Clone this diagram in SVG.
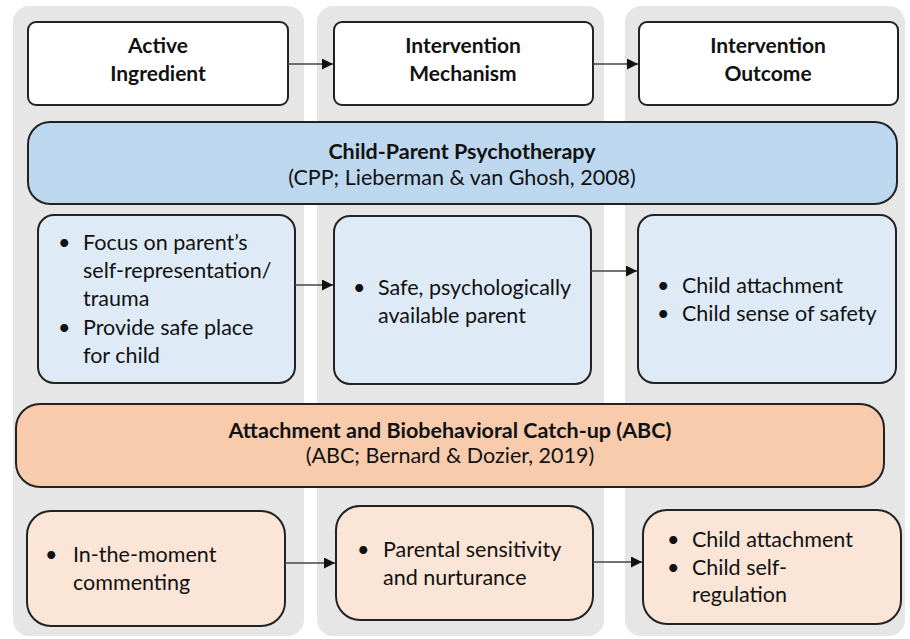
<svg xmlns="http://www.w3.org/2000/svg" width="910" height="639" viewBox="0 0 910 639">
<defs>
<marker id="ah" viewBox="0 0 10 10" refX="10" refY="5" markerWidth="11" markerHeight="11" markerUnits="userSpaceOnUse" orient="auto">
<path d="M0,0 L10,5 L0,10 z" fill="#111"/>
</marker>
<style>
.col{fill:#e6e6e6;}
.box{stroke:#222;stroke-width:2;}
.hdr{fill:#fff;}
.bb{fill:#bdd7ee;}
.lb{fill:#deebf7;}
.ob{fill:#f8cbad;}
.lo{fill:#fbe5d6;}
text{font-family:Lato,"Liberation Sans",sans-serif;fill:#111;}
.h{font-size:21.5px;font-weight:bold;text-anchor:middle;}
.hh{font-size:21px;font-weight:bold;text-anchor:middle;}
.t{font-size:21.5px;}
.s{font-size:21.5px;text-anchor:middle;}
.conn{stroke:#444;stroke-width:1.4;fill:none;}
</style>
</defs>
<rect width="910" height="639" fill="#fff"/>
<g id="columns">
<rect class="col" x="13" y="6" width="291" height="630" rx="16"/>
<rect class="col" x="317" y="6" width="287" height="630" rx="16"/>
<rect class="col" x="625" y="6" width="280" height="630" rx="16"/>
</g>
<g id="hdr-active">
<rect class="box hdr" x="28" y="22" width="260" height="83" rx="8"/>
<text class="hh" x="158" y="53">Active</text>
<text class="hh" x="158" y="81">Ingredient</text>
</g>
<g id="hdr-mechanism">
<rect class="box hdr" x="334" y="22" width="259" height="83" rx="8"/>
<text class="hh" x="463" y="53">Intervention</text>
<text class="hh" x="463" y="81">Mechanism</text>
</g>
<g id="hdr-outcome">
<rect class="box hdr" x="639" y="22" width="259" height="83" rx="8"/>
<text class="hh" x="768" y="53">Intervention</text>
<text class="hh" x="768" y="81">Outcome</text>
</g>
<g id="cpp-banner">
<rect class="box bb" x="28" y="122" width="869" height="82" rx="22"/>
<text class="h" x="462" y="159">Child-Parent Psychotherapy</text>
<text class="s" x="462" y="185">(CPP; Lieberman &amp; van Ghosh, 2008)</text>
</g>
<g id="cpp-ingredient">
<rect class="box lb" x="38" y="215" width="257" height="168" rx="16"/>
<text class="t"><tspan x="58" y="250">•</tspan><tspan x="83" y="250">Focus on parent’s</tspan></text>
<text class="t" x="83" y="278">self-representation/</text>
<text class="t" x="83" y="306">trauma</text>
<text class="t"><tspan x="58" y="335">•</tspan><tspan x="83" y="335">Provide safe place</tspan></text>
<text class="t" x="83" y="363">for child</text>
</g>
<g id="cpp-mechanism">
<rect class="box lb" x="334" y="216" width="257" height="168" rx="16"/>
<text class="t"><tspan x="353" y="295">•</tspan><tspan x="378" y="295">Safe, psychologically</tspan></text>
<text class="t" x="378" y="323">available parent</text>
</g>
<g id="cpp-outcome">
<rect class="box lb" x="638" y="215" width="258" height="168" rx="16"/>
<text class="t"><tspan x="657" y="293">•</tspan><tspan x="682" y="293">Child attachment</tspan></text>
<text class="t"><tspan x="657" y="321">•</tspan><tspan x="682" y="321">Child sense of safety</tspan></text>
</g>
<g id="abc-banner">
<rect class="box ob" x="16" y="404" width="868" height="83" rx="24"/>
<text class="h" x="450" y="438">Attachment and Biobehavioral Catch-up (ABC)</text>
<text class="s" x="450" y="463">(ABC; Bernard &amp; Dozier, 2019)</text>
</g>
<g id="abc-ingredient">
<rect class="box lo" x="27" y="511" width="258" height="115" rx="24"/>
<text class="t"><tspan x="45" y="562">•</tspan><tspan x="73" y="562">In-the-moment</tspan></text>
<text class="t" x="73" y="590">commenting</text>
</g>
<g id="abc-mechanism">
<rect class="box lo" x="336" y="506" width="257" height="114" rx="24"/>
<text class="t"><tspan x="357" y="557">•</tspan><tspan x="383" y="557">Parental sensitivity</tspan></text>
<text class="t" x="383" y="585">and nurturance</text>
</g>
<g id="abc-outcome">
<rect class="box lo" x="643" y="510" width="258" height="114" rx="24"/>
<text class="t"><tspan x="667" y="547">•</tspan><tspan x="692" y="547">Child attachment</tspan></text>
<text class="t"><tspan x="667" y="575">•</tspan><tspan x="692" y="575">Child self-</tspan></text>
<text class="t" x="692" y="602">regulation</text>
</g>
<g id="connectors">
<line class="conn" x1="288" y1="64" x2="333" y2="64" marker-end="url(#ah)"/>
<line class="conn" x1="593" y1="64" x2="638" y2="64" marker-end="url(#ah)"/>
<line class="conn" x1="295" y1="285" x2="333" y2="285" marker-end="url(#ah)"/>
<line class="conn" x1="591" y1="271" x2="637" y2="271" marker-end="url(#ah)"/>
<line class="conn" x1="285" y1="563" x2="335" y2="563" marker-end="url(#ah)"/>
<line class="conn" x1="593" y1="562" x2="642" y2="562" marker-end="url(#ah)"/>
</g>
</svg>
